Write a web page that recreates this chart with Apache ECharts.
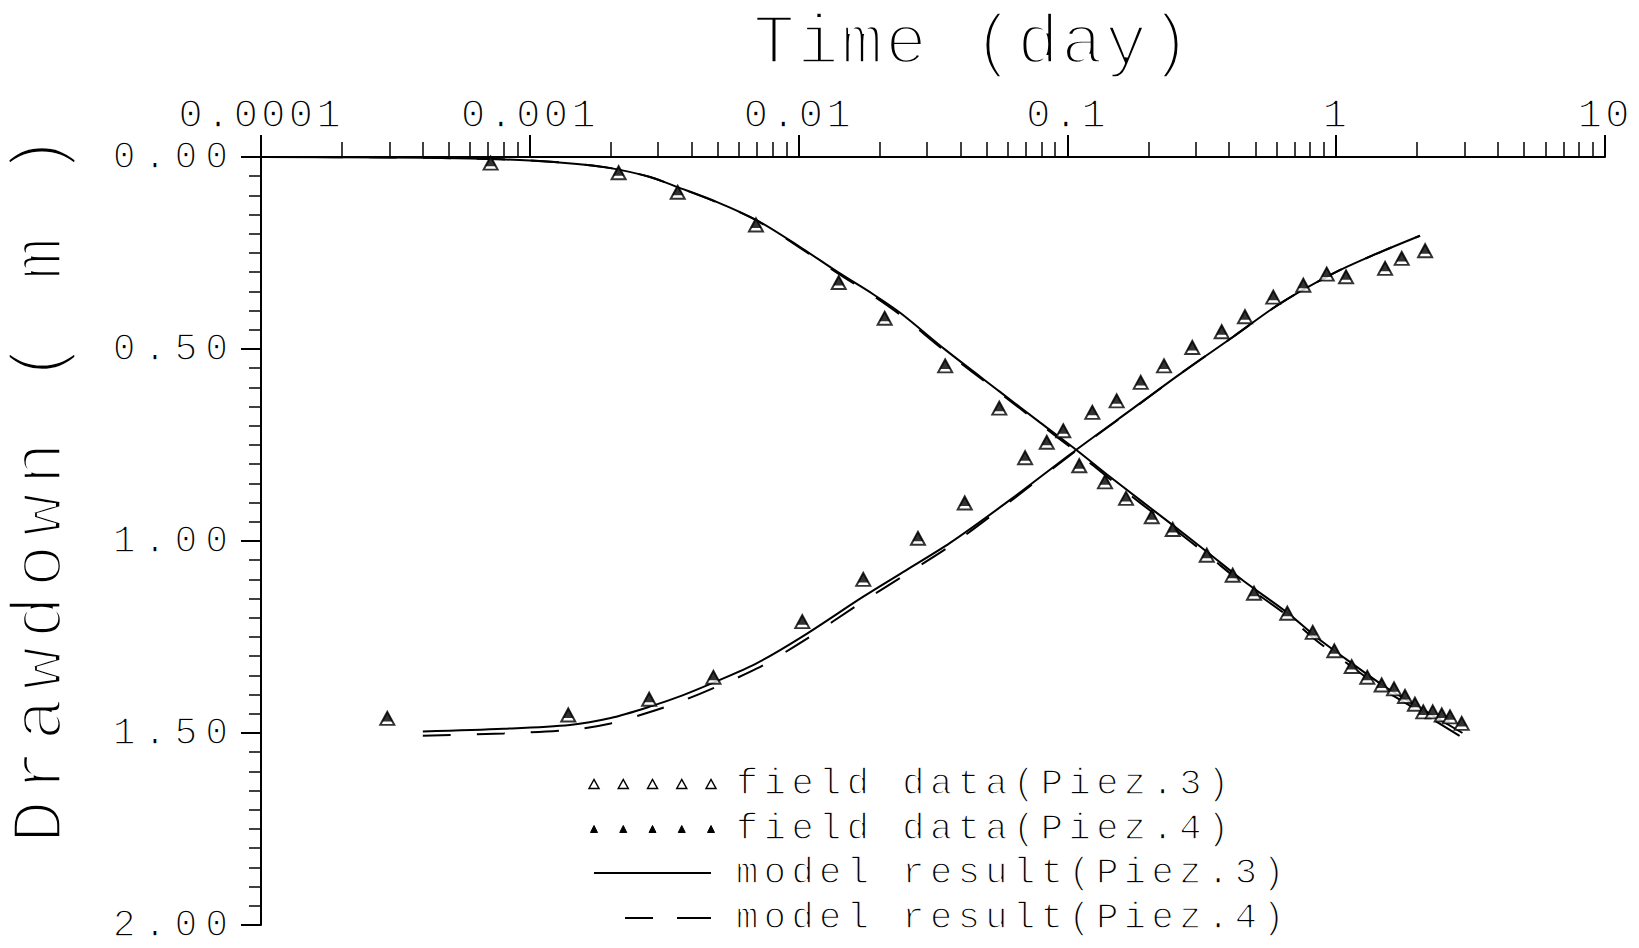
<!DOCTYPE html>
<html>
<head>
<meta charset="utf-8">
<script src="https://cdn.jsdelivr.net/npm/echarts@6/dist/echarts.min.js"></script>
<style>
  html, body { margin: 0; padding: 0; background: #fff; }
  #chart { width: 1639px; height: 948px; }
  /* fill first, then a white outline that thins the glyph strokes */
  #chart text { paint-order: normal !important; }
</style>
</head>
<body>
<div id="chart"></div>
<script>
// Field readings on the falling branch (drawdown grows with time)
const fallTime = [0.000715, 0.00214, 0.00355, 0.00694, 0.0141, 0.0209, 0.0351, 0.0558, 0.1107, 0.138,
  0.1652, 0.206, 0.2465, 0.33, 0.412, 0.4945, 0.6577, 0.818, 0.984, 1.142,
  1.305, 1.476, 1.641, 1.803, 1.963, 2.109, 2.286, 2.47, 2.651, 2.93];
const fallDrawdown = [0.016, 0.041, 0.092, 0.177, 0.327, 0.420, 0.544, 0.654, 0.804, 0.846,
  0.889, 0.937, 0.970, 1.037, 1.089, 1.136, 1.188, 1.238, 1.286, 1.327,
  1.355, 1.375, 1.385, 1.405, 1.425, 1.445, 1.445, 1.453, 1.458, 1.475];

// Field readings on the rising branch
const riseTime = [0.000295, 0.00139, 0.00278, 0.00482, 0.01032, 0.0174, 0.0278, 0.0415, 0.0696, 0.0838,
  0.0965, 0.1238, 0.1525, 0.1874, 0.2288, 0.2915, 0.375, 0.4577, 0.5834, 0.7545,
  0.922, 1.088, 1.52, 1.753, 2.142];
const riseDrawdown = [1.462, 1.453, 1.412, 1.355, 1.210, 1.100, 0.993, 0.901, 0.783, 0.743,
  0.713, 0.665, 0.635, 0.587, 0.544, 0.496, 0.455, 0.416, 0.365, 0.334,
  0.305, 0.312, 0.290, 0.264, 0.244];

// Model results, falling branch
const fallModelTime = [0.0001, 0.0003, 0.0006, 0.001, 0.0015, 0.002, 0.0028, 0.0035, 0.005, 0.007,
  0.01, 0.014, 0.019, 0.024, 0.035, 0.056, 0.079, 0.108, 0.14, 0.186,
  0.25, 0.33, 0.45, 0.65, 0.85, 1.14, 1.5, 2.0, 2.95];
const fallModelSolid = [0, 0.001, 0.004, 0.009, 0.018, 0.029, 0.052, 0.077, 0.118, 0.165,
  0.232, 0.300, 0.358, 0.407, 0.501, 0.611, 0.691, 0.763, 0.826, 0.893,
  0.962, 1.028, 1.103, 1.184, 1.252, 1.318, 1.377, 1.430, 1.500];
const fallModelDashed = [0, 0.001, 0.004, 0.009, 0.018, 0.029, 0.052, 0.077, 0.119, 0.166,
  0.234, 0.303, 0.362, 0.412, 0.505, 0.614, 0.695, 0.768, 0.832, 0.900,
  0.969, 1.035, 1.111, 1.192, 1.261, 1.327, 1.387, 1.440, 1.512];

// Model results, rising branch
const riseModelTime = [0.0004, 0.0008, 0.00141, 0.002, 0.00278, 0.0037, 0.00482, 0.007, 0.01032, 0.0174,
  0.025, 0.0366, 0.0612, 0.1076, 0.176, 0.27, 0.414, 0.62, 0.976, 1.4, 2.05];
const riseModelSolid = [1.496, 1.489, 1.479, 1.461, 1.432, 1.402, 1.369, 1.318, 1.249, 1.145,
  1.077, 1.005, 0.893, 0.763, 0.654, 0.559, 0.468, 0.381, 0.303, 0.253, 0.205];
const riseModelDashed = [1.507, 1.501, 1.492, 1.475, 1.446, 1.416, 1.383, 1.332, 1.262, 1.157,
  1.087, 1.013, 0.897, 0.765, 0.655, 0.559, 0.468, 0.381, 0.303, 0.253, 0.205];

// Axis ticks and labels
const xTickValues = [0.0001, 0.001, 0.01, 0.1, 1, 10];
const xTickLabels = ['0.0001', '0.001', '0.01', '0.1', '1', '10'];
const yTickLabels = ['0.00', '0.50', '1.00', '1.50', '2.00'];
const legendLabels = ['field data(Piez.3)', 'field data(Piez.4)', 'model result(Piez.3)', 'model result(Piez.4)'];
const xAxisTitle = 'Time (day)';
const yAxisTitle = 'Drawdown ( m )';

const FONT = 'Liberation Mono';
const INK = '#000';
const PAPER = '#fff';

const pairs = (xs, ys) => xs.map((x, i) => [x, ys[i]]);
const fieldPoints = pairs(fallTime, fallDrawdown).concat(pairs(riseTime, riseDrawdown));

// log minor ticks at 2..9 within each decade
const xMinorTicks = [];
for (let d = -4; d < 1; d++) {
  for (let m = 2; m <= 9; m++) xMinorTicks.push(m * Math.pow(10, d));
}

const chart = echarts.init(document.getElementById('chart'), null, { renderer: 'svg' });

function modelLine(name, xs, ys, dashed) {
  return {
    name, type: 'line', data: pairs(xs, ys), symbol: 'none', silent: true,
    smooth: 0.3, z: dashed ? 2 : 3,
    lineStyle: { color: INK, width: 2, type: dashed ? [28, 26] : 'solid' }
  };
}

// Legend keys
const legendX0 = 594, legendX1 = 711, legendTextX = 736;
const legendRows = [784, 829, 873, 918];
const legendItems = [];
for (let i = 0; i < 5; i++) {
  const cx = legendX0 + i * (legendX1 - legendX0) / 4;
  let cy = legendRows[0];
  legendItems.push({ type: 'polygon', silent: true,
    shape: { points: [[cx - 5, cy + 4.5], [cx, cy - 4.5], [cx + 5, cy + 4.5]] },
    style: { fill: PAPER, stroke: INK, lineWidth: 1.5 } });
  cy = legendRows[1];
  legendItems.push({ type: 'polygon', silent: true,
    shape: { points: [[cx - 3.5, cy + 3.5], [cx, cy - 3.5], [cx + 3.5, cy + 3.5]] },
    style: { fill: INK, stroke: INK, lineWidth: 1 } });
}
legendItems.push({ type: 'line', silent: true,
  shape: { x1: legendX0, y1: legendRows[2], x2: legendX1, y2: legendRows[2] },
  style: { stroke: INK, lineWidth: 2 } });
legendItems.push({ type: 'line', silent: true,
  shape: { x1: 625, y1: legendRows[3], x2: 653, y2: legendRows[3] },
  style: { stroke: INK, lineWidth: 2 } });
legendItems.push({ type: 'line', silent: true,
  shape: { x1: 677, y1: legendRows[3], x2: legendX1, y2: legendRows[3] },
  style: { stroke: INK, lineWidth: 2 } });
legendLabels.forEach((label, i) => {
  legendItems.push({ type: 'text', silent: true, x: legendTextX, y: legendRows[i],
    style: { text: label, fontSize: 37, fontFamily: FONT, fill: INK,
      stroke: PAPER, lineWidth: 1.4, verticalAlign: 'middle', align: 'left' } });
});

const axisCommon = {
  axisLine: { show: true, lineStyle: { color: INK, width: 2 } },
  splitLine: { show: false }
};

chart.setOption({
  animation: false,
  backgroundColor: PAPER,
  textStyle: { fontFamily: FONT, color: INK },
  grid: { left: 261, top: 157, right: 34, bottom: 23, containLabel: false, outerBoundsMode: 'none' },
  xAxis: [
    Object.assign({}, axisCommon, {
      type: 'log', logBase: 10, min: 0.0001, max: 10, position: 'top',
      name: xAxisTitle, nameLocation: 'middle', nameGap: 78, nameMoveOverlap: false,
      nameTextStyle: { fontSize: 70, fontFamily: FONT, color: INK, padding: [0, 0, 0, 80],
        textBorderColor: PAPER, textBorderWidth: 3.4 },
      axisTick: { show: true, inside: false, length: 22, lineStyle: { color: INK, width: 2 }, customValues: xTickValues },
      axisLabel: { show: true, margin: 21, fontSize: 41, fontFamily: FONT, color: INK,
        textBorderColor: PAPER, textBorderWidth: 1.6,
        customValues: xTickValues,
        formatter: v => xTickLabels[Math.round(Math.log10(v)) + 4] },
      minorTick: { show: false }
    }),
    {
      type: 'log', logBase: 10, min: 0.0001, max: 10, position: 'top',
      axisLine: { show: false }, splitLine: { show: false }, axisLabel: { show: false },
      axisTick: { show: true, inside: false, length: 15, lineStyle: { color: INK, width: 1.5 }, customValues: xMinorTicks }
    }
  ],
  yAxis: Object.assign({}, axisCommon, {
    type: 'value', inverse: true, min: 0, max: 2, interval: 0.5,
    name: yAxisTitle, nameLocation: 'middle', nameRotate: 90, nameGap: 183, nameMoveOverlap: false,
    nameTextStyle: { fontSize: 72, fontFamily: FONT, color: INK, padding: [0, 0, 0, 112],
      textBorderColor: PAPER, textBorderWidth: 3.4 },
    axisTick: { show: true, inside: false, length: 20, lineStyle: { color: INK, width: 2 } },
    minorTick: { show: true, splitNumber: 10, length: 12, lineStyle: { color: INK, width: 1.5 } },
    axisLabel: { show: true, margin: 25, fontSize: 38, fontFamily: FONT, color: INK,
      textBorderColor: PAPER, textBorderWidth: 1.5,
      formatter: v => yTickLabels[Math.round(v / 0.5)] }
  }),
  series: [
    modelLine('model result(Piez.4)', fallModelTime, fallModelDashed, true),
    modelLine('model result(Piez.4)', riseModelTime, riseModelDashed, true),
    modelLine('model result(Piez.3)', fallModelTime, fallModelSolid, false),
    modelLine('model result(Piez.3)', riseModelTime, riseModelSolid, false),
    {
      name: 'field data(Piez.3)', type: 'scatter', data: fieldPoints, silent: true, z: 4,
      symbol: 'triangle', symbolSize: [14, 13],
      itemStyle: { color: PAPER, borderColor: INK, borderWidth: 2 }
    },
    {
      name: 'field data(Piez.4)', type: 'scatter', data: fieldPoints, silent: true, z: 5,
      symbol: 'triangle', symbolSize: [11, 10], symbolOffset: [0, -2],
      itemStyle: { color: INK }
    }
  ],
  graphic: { elements: legendItems }
});

// Plotter-style lettering: extra tracking per text size
const TRACKING = { '70px': '2px', '72px': '8px', '41px': '3px', '38px': '8px', '37px': '5.5px' };
function applyTracking() {
  document.querySelectorAll('#chart text').forEach(t => {
    const size = getComputedStyle(t).fontSize;
    if (TRACKING[size]) t.style.letterSpacing = TRACKING[size];
  });
}
chart.on('finished', applyTracking);
setTimeout(applyTracking, 50);
</script>
</body>
</html>
